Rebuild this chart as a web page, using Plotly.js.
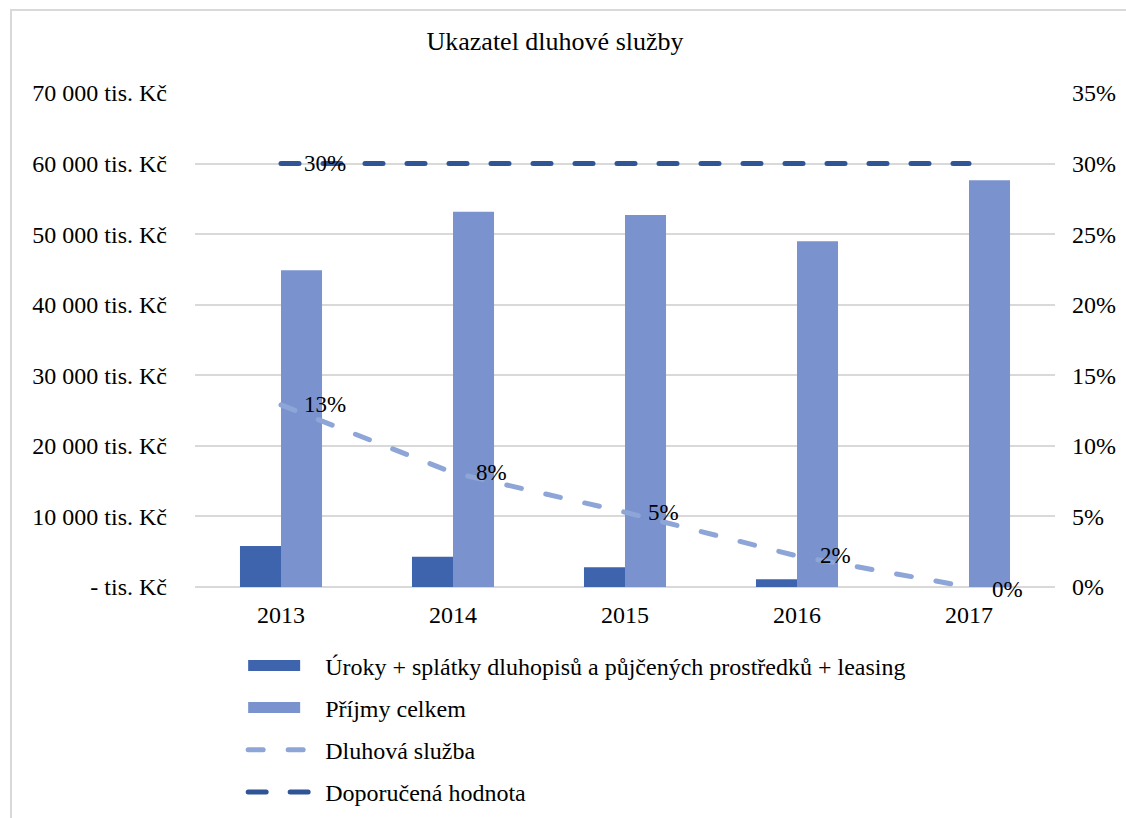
<!DOCTYPE html>
<html>
<head>
<meta charset="utf-8">
<script src="https://cdn.plot.ly/plotly-3.0.1.min.js"></script>
<style>
  html, body { margin: 0; padding: 0; background: #fff; overflow: hidden; }
  #chart { position: absolute; left: 0; top: 0; width: 1126px; height: 818px; }
  #frame { position: absolute; left: 10px; top: 9px; width: 1130px; height: 830px;
           border: 2px solid #d9d9d9; pointer-events: none; box-sizing: border-box; }
  #chart .scatterlayer path.js-line { stroke-linecap: round !important; }
  #chart .legend path.js-line { stroke-linecap: round !important; }
</style>
</head>
<body>
<div id="chart"></div>
<div id="frame"></div>
<script>
// Roky a hodnoty v tis. Kč
const years = ['2013', '2014', '2015', '2016', '2017'];
const debtPayments = [5810, 4290, 2790, 1090, 0];          // Úroky + splátky ... + leasing
const totalIncome = [44900, 53160, 52700, 49000, 57650];    // Příjmy celkem
const debtService = [0.129, 0.081, 0.053, 0.022, 0.0];      // Dluhová služba (podíl)
const recommended = [0.30, 0.30, 0.30, 0.30, 0.30];         // Doporučená hodnota

// Osa vlevo
const leftTickVals = [0, 10000, 20000, 30000, 40000, 50000, 60000, 70000];
const leftTickText = ['- tis. Kč', '10 000 tis. Kč', '20 000 tis. Kč', '30 000 tis. Kč',
  '40 000 tis. Kč', '50 000 tis. Kč', '60 000 tis. Kč', '70 000 tis. Kč'];

const pct = v => Math.round(v * 100) + '%';
const FONT = '"Liberation Serif", "Times New Roman", Times, serif';
const TICK = { family: FONT, size: 24, color: '#000' };

const traces = [
  {
    type: 'bar', name: 'Úroky + splátky dluhopisů a půjčených prostředků + leasing',
    x: years, y: debtPayments, marker: { color: '#3d64ad' }, legendgroup: 'a', hoverinfo: 'skip'
  },
  {
    type: 'bar', name: 'Příjmy celkem',
    x: years, y: totalIncome, marker: { color: '#7a93cf' }, legendgroup: 'b', hoverinfo: 'skip'
  },
  {
    type: 'scatter', mode: 'lines', name: 'Dluhová služba', yaxis: 'y2',
    x: years, y: debtService, line: { color: '#8ea5d8', width: 5, dash: '15px,25px' },
    legendgroup: 'c', hoverinfo: 'skip'
  },
  {
    type: 'scatter', mode: 'lines', name: 'Doporučená hodnota', yaxis: 'y2',
    x: years, y: recommended, line: { color: '#2f5597', width: 5, dash: '18px,24px' },
    legendgroup: 'd', hoverinfo: 'skip'
  }
];

// Popisky hodnot u čar (x jako pořadí kategorie)
const labelFont = { family: FONT, size: 23, color: '#000' };
const annotations = [];
debtService.forEach((v, i) => {
  annotations.push({ x: i, y: v, xref: 'x', yref: 'y2', text: pct(v), showarrow: false,
    xanchor: 'left', yanchor: 'middle', xshift: 21, yshift: i === debtService.length - 1 ? -2 : 0,
    font: labelFont });
});
annotations.push({ x: 0, y: recommended[0], xref: 'x', yref: 'y2', text: pct(recommended[0]),
  showarrow: false, xanchor: 'left', yanchor: 'middle', xshift: 21, font: labelFont });

const layout = {
  width: 1126, height: 818,
  margin: { l: 195, r: 71, t: 93, b: 231, autoexpand: false },
  paper_bgcolor: '#fff', plot_bgcolor: '#fff',
  font: TICK,
  title: { text: 'Ukazatel dluhové služby', x: 0.4929, xanchor: 'center', xref: 'container',
           y: 0.95, yanchor: 'middle', yref: 'container', font: { family: FONT, size: 26, color: '#000' } },
  barmode: 'group', bargap: 0.523, bargroupgap: 0,
  xaxis: { type: 'category', range: [-0.5, years.length - 0.5], autorange: false,
           showgrid: false, showline: false, zeroline: false, ticks: '',
           ticklabelstandoff: 11, tickfont: TICK },
  yaxis: { range: [0, 70000], tickvals: leftTickVals, ticktext: leftTickText,
           showgrid: true, gridcolor: '#d9d9d9', gridwidth: 2, zeroline: true, zerolinecolor: '#d9d9d9',
           zerolinewidth: 2, showline: false, ticks: '', ticklabelstandoff: 27, tickfont: TICK },
  yaxis2: { range: [0, 0.35], dtick: 0.05, tickformat: '.0%', overlaying: 'y', side: 'right',
            showgrid: false, zeroline: false, showline: false, ticks: '', ticklabelstandoff: 16,
            tickfont: TICK },
  showlegend: true,
  legend: { orientation: 'v', x: 0.056, xanchor: 'left', y: -0.114, yanchor: 'top',
            itemwidth: 72, tracegroupgap: 8, traceorder: 'grouped',
            font: TICK, bgcolor: 'rgba(0,0,0,0)' },
  annotations: annotations
};

Plotly.newPlot('chart', traces, layout, { staticPlot: true, displayModeBar: false }).then(gd => {
  // Značky legendy: obdélníky pro sloupce, dvě čárky pro čáry
  gd.querySelectorAll('.legend .traces').forEach(tr => {
    const line = tr.querySelector('.legendpoints path.js-line');
    if (line) {
      line.setAttribute('d', 'M5,0h52');
      line.style.setProperty('stroke-dasharray', '12px, 20px', 'important');
    } else {
      const pt = tr.querySelector('.legendpoints path');
      if (pt) {
        pt.setAttribute('d', 'M5,-5.5h52v11h-52z');
        pt.setAttribute('transform', 'translate(0,0)');
      }
    }
  });
});
</script>
</body>
</html>
